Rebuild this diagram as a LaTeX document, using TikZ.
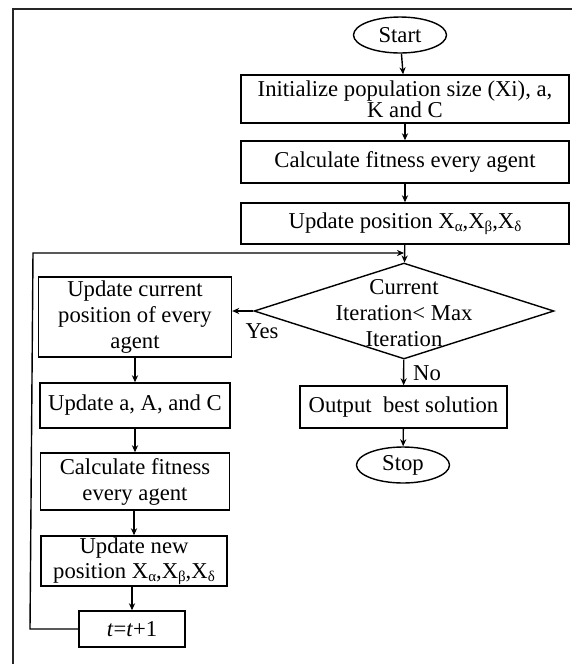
\documentclass[tikz,border=0pt]{standalone}
\usepackage{fontspec}
\setmainfont{Liberation Serif}
\usetikzlibrary{shapes.geometric,arrows.meta}
\newcommand{\gsub}[1]{\raisebox{-0.3ex}{\fontsize{8.5}{8.5}\selectfont #1}}

\begin{document}
\begin{tikzpicture}[x=0.02cm,y=-0.02cm,
  every node/.style={font=\fontsize{12.9}{14.8}\selectfont,align=center,inner sep=0pt},
  box/.style={draw,line width=0.8pt,rectangle},
  term/.style={draw,line width=0.8pt,ellipse,minimum width=1.86cm,minimum height=0.72cm},
  decision/.style={draw,line width=0.8pt,diamond,minimum width=6cm,minimum height=1.92cm},
  link/.style={line width=0.8pt,-{Stealth[length=4pt,width=3.5pt]}}]
\useasboundingbox (0,0) rectangle (572,664);
\draw[line width=0.8pt,color=black!85](13,664)--(13,9)--(572,9);

\node[term] (start) at (400,35) {Start};
\node[box,minimum width=6.56cm,minimum height=0.96cm,font=\fontsize{12.9}{12}\selectfont] (init) at (405,99) {Initialize population size (Xi), a,\\K and C};
\node[box,minimum width=6.56cm,minimum height=0.84cm] (calc) at (405,162) {Calculate fitness every agent};
\node[box,minimum width=6.56cm,minimum height=0.82cm] (upd) at (405,223.5) {Update position X\gsub{α},X\gsub{β},X\gsub{δ}};
\node[decision] (cond) at (404,311) {};
\node (condtext) at (404,313) {Current\\Iteration< Max\\Iteration};
\node[box,minimum width=4.14cm,minimum height=0.84cm] (out) at (403.5,407) {Output~ best solution};
\node[term] (stop) at (403,465) {Stop};

\node[box,minimum width=3.86cm,minimum height=1.6cm] (ucur) at (135,317) {Update current\\position of every\\agent};
\node[box,minimum width=3.8cm,minimum height=0.9cm] (uaac) at (135,405.5) {Update a, A, and C};
\node[box,minimum width=3.78cm,minimum height=1.14cm] (cfit) at (135,481.5) {Calculate fitness\\every agent};
\node[box,minimum width=3.72cm,minimum height=1cm,font=\fontsize{12.9}{14}\selectfont] (unew) at (134,561) {Update new\\position X\gsub{α},X\gsub{β},X\gsub{δ}};
\node[box,minimum width=2.12cm,minimum height=0.72cm] (tinc) at (132,629) {\textit{t}=\textit{t}+1};

\node (yes) at (262,331) {Yes};
\node (no) at (427,373) {No};

\coordinate (lpa) at (30,629);
\coordinate (lpb) at (33,253);

\draw[link](start)--(init);
\draw[link](init)--(calc);
\draw[link](calc)--(upd);
\draw[link](upd)--(cond);
\draw[link](cond.west)--(cond.west -| ucur.east);
\draw[link](cond)--(out);
\draw[link](out)--(stop);
\draw[link](ucur)--(uaac);
\draw[link](uaac)--(cfit);
\draw[link](cfit.south -| unew)--(unew);
\draw[link](unew.south -| tinc)--(tinc);
\draw[link](tinc.west)--(lpa)--(lpb)--(lpb -| cond.north);
\end{tikzpicture}
\end{document}
